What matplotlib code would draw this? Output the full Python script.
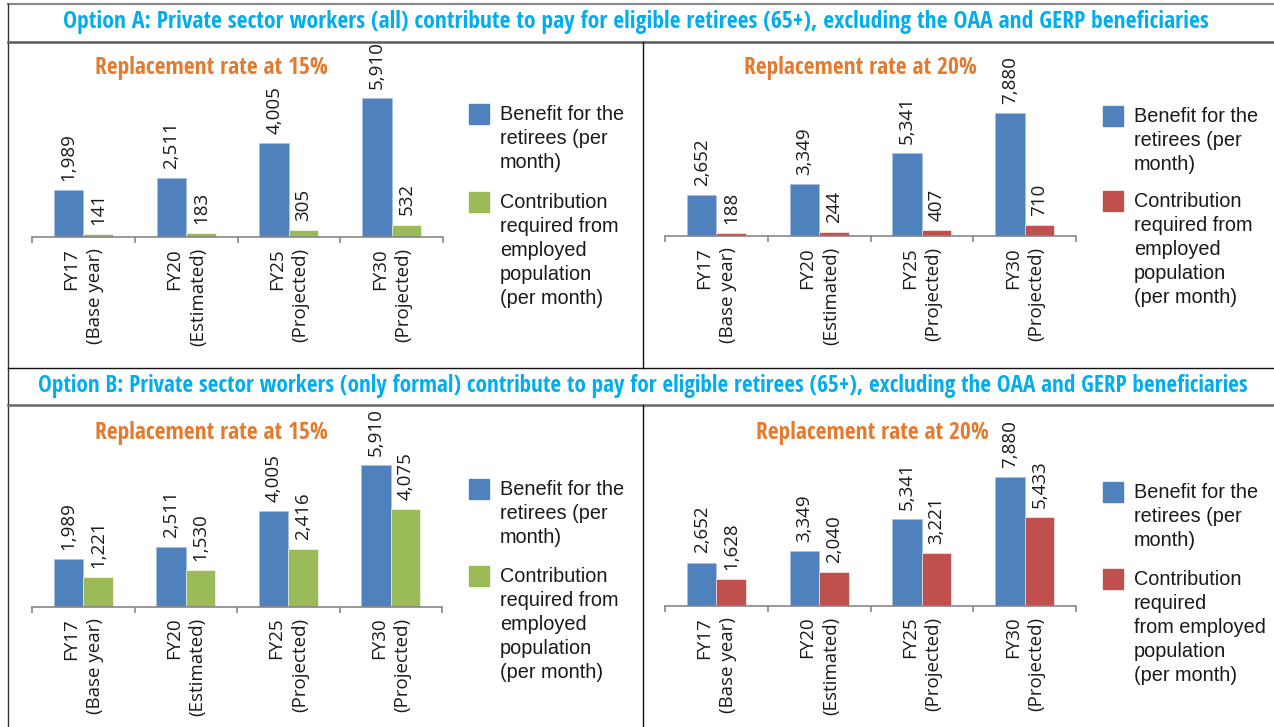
import matplotlib
matplotlib.use('Agg')
import matplotlib.pyplot as plt
import numpy as np
from matplotlib.patches import Rectangle
from matplotlib.lines import Line2D
from matplotlib import font_manager

# ---------------- data ----------------
categories = ['FY17\n(Base year)', 'FY20\n(Estimated)', 'FY25\n(Projected)', 'FY30\n(Projected)']
benefit_15 = [1989, 2511, 4005, 5910]
benefit_20 = [2652, 3349, 5341, 7880]
contrib_A_15 = [141, 183, 305, 532]
contrib_A_20 = [188, 244, 407, 710]
contrib_B_15 = [1221, 1530, 2416, 4075]
contrib_B_20 = [1628, 2040, 3221, 5433]

header_A = ("Option A: Private sector workers (all) contribute to pay for eligible retirees (65+), "
            "excluding the OAA and GERP beneficiaries")
header_B = ("Option B: Private sector workers (only formal) contribute to pay for eligible retirees (65+), "
            "excluding the OAA and GERP beneficiaries")
title_15 = "Replacement rate at 15%"
title_20 = "Replacement rate at 20%"
legend_benefit = "Benefit for the\nretirees (per\nmonth)"
legend_contrib = "Contribution\nrequired from\nemployed\npopulation\n(per month)"
legend_contrib_br = "Contribution\nrequired\nfrom employed\npopulation\n(per month)"

BLUE = '#4F81BD'
GREEN = '#9BBB59'
RED = '#C0504D'
ORANGE = '#E37A2E'
CYAN = '#00AEEF'

W, H = 1274, 727
fig = plt.figure(figsize=(W / 100, H / 100), dpi=100)
fig.patch.set_facecolor('white')

# pick a condensed bold face if one is installed
fonts = font_manager.fontManager.ttflist
names = {f.name for f in fonts}
COND_KW = {'family': ['DejaVu Sans']}
for cand in ['Liberation Sans Narrow', 'Open Sans Condensed', 'Roboto Condensed',
             'Noto Sans Condensed', 'DejaVu Sans Condensed']:
    if cand in names:
        COND_KW = {'family': [cand, 'DejaVu Sans']}
        break
else:
    if any(f.name == 'DejaVu Sans' and str(f.stretch) in ('condensed', 'semi-condensed', '75', '87')
           for f in fonts):
        COND_KW = {'family': ['DejaVu Sans'], 'fontstretch': 'condensed'}

LEG_FAMILY = ['Liberation Sans', 'DejaVu Sans']
TICK_FAMILY = ['Open Sans', 'DejaVu Sans']


def fx(x):
    return x / W


def fy(y):
    return 1 - y / H


def hline(y, x0, x1, color, lw):
    fig.add_artist(Line2D([fx(x0), fx(x1)], [fy(y), fy(y)], color=color, lw=lw,
                          transform=fig.transFigure))


def vline(x, y0, y1, color, lw):
    fig.add_artist(Line2D([fx(x), fx(x)], [fy(y0), fy(y1)], color=color, lw=lw,
                          transform=fig.transFigure))


# frame lines
hline(4, 8, W, '#8a8a8a', 1.6)
vline(8, 4, H, '#333333', 1.0)
hline(41.5, 8, W, '#5a5a5a', 1.8)
vline(643, 41.5, 368, '#111111', 1.0)
hline(368, 8, W, '#111111', 1.0)
hline(405, 8, W, '#6a6a6a', 1.8)
vline(643, 405, H, '#111111', 1.0)

renderer = fig.canvas.get_renderer()


def fit_width(t, target_px):
    bb = t.get_window_extent(renderer=renderer)
    t.set_fontsize(t.get_fontsize() * target_px / bb.width)


tA = fig.text(fx(636), fy(22.5), header_A, color=CYAN, fontweight='bold',
              fontsize=15, ha='center', va='center', **COND_KW)
fit_width(tA, 1143)
tB = fig.text(fx(643), fy(386), header_B, color=CYAN, fontweight='bold',
              fontsize=15, ha='center', va='center', **COND_KW)
fit_width(tB, 1212)

TFS = 13.5  # tick / value label size


def panel(ax_px, ymax, v1, v2, c2, title, title_c, leg_x, sq1_y, sq2_y, leg2_text):
    x0, x1, ytop, ybot = ax_px
    ax = fig.add_axes([fx(x0), fy(ybot), fx(x1) - fx(x0), (ybot - ytop) / H])
    x = np.arange(len(categories))
    w = 0.287
    ax.bar(x - w / 2, v1, w, color=BLUE, edgecolor='#a9c1e0', linewidth=0.4)
    ax.bar(x + w / 2, v2, w, color=c2, edgecolor='white', linewidth=0.4)
    for xi, v in zip(x - w / 2, v1):
        ax.annotate(f"{v:,}", (xi, v), xytext=(0, 6.5), textcoords='offset points', rotation=90,
                    ha='center', va='bottom', fontsize=TFS, family=TICK_FAMILY, color='#1a1a1a')
    for xi, v in zip(x + w / 2, v2):
        ax.annotate(f"{v:,}", (xi, v), xytext=(0, 6.5), textcoords='offset points', rotation=90,
                    ha='center', va='bottom', fontsize=TFS, family=TICK_FAMILY, color='#1a1a1a')
    ax.set_xlim(-0.5, len(categories) - 0.5)
    ax.set_ylim(0, ymax)
    ax.set_yticks([])
    for s in ['top', 'left', 'right']:
        ax.spines[s].set_visible(False)
    ax.spines['bottom'].set_color('#868686')
    ax.spines['bottom'].set_linewidth(1.2)
    ax.set_xticks(x)
    ax.set_xticklabels(categories, rotation=90, fontsize=TFS, family=TICK_FAMILY,
                       color='#1a1a1a', linespacing=1.4)
    for lab in ax.get_xticklabels():
        lab.set_multialignment('right')
        lab.set_va('top')
        lab.set_ha('center')
    ax.tick_params(axis='x', which='major', length=0, pad=8)
    ax.set_xticks(np.arange(-0.5, len(categories), 1.0), minor=True)
    ax.tick_params(axis='x', which='minor', length=4.5, color='#868686', width=1.2, direction='out')
    ax.set_facecolor('none')

    t = fig.text(fx(title_c[0]), fy(title_c[1]), title, color=ORANGE, fontweight='bold',
                 fontsize=17, ha='center', va='center', **COND_KW)
    fit_width(t, 233)

    # legend
    sq = 20
    for (sy, col, txt) in [(sq1_y, BLUE, legend_benefit), (sq2_y, c2, leg2_text)]:
        fig.add_artist(Rectangle((fx(leg_x), fy(sy + sq)), sq / W, sq / H, color=col,
                                 transform=fig.transFigure))
        fig.text(fx(leg_x + 31), fy(sy + 1), txt, family=LEG_FAMILY, fontsize=14.3,
                 color='#1a1a1a', ha='left', va='top', linespacing=1.33)
    return ax


panel((32, 443, 60, 237), 7540, benefit_15, contrib_A_15, GREEN, title_15, (211, 68),
      469, 104, 192, legend_contrib)
panel((665, 1076, 60, 236), 11317, benefit_20, contrib_A_20, RED, title_20, (860, 68),
      1103, 106, 191, legend_contrib)
panel((32, 442, 420, 606.7), 7804, benefit_15, contrib_B_15, GREEN, title_15, (211, 433),
      469, 479, 566, legend_contrib)
panel((665, 1076, 420, 605.7), 11402, benefit_20, contrib_B_20, RED, title_20, (872, 433),
      1103, 482, 569, legend_contrib_br)

fig.savefig('out.png', dpi=100, facecolor='white')
